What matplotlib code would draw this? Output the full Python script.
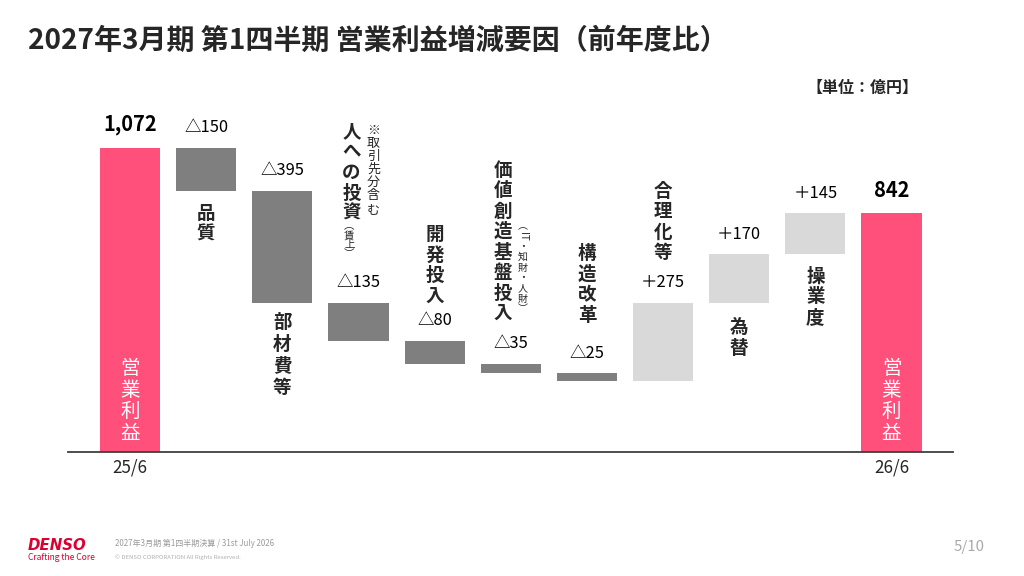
import matplotlib
matplotlib.use('Agg')
import matplotlib.pyplot as plt

plt.rcParams['font.family'] = ['Noto Sans CJK JP', 'DejaVu Sans']

# data
title = '2027年3月期 第1四半期 営業利益増減要因（前年度比）'
unit_label = '【単位：億円】'
period_labels = ['25/6', '26/6']
total_name = '営業利益'
start_value = 1072
end_value = 842
factor_names = ['品質', '部材費等', '人への投資', '開発投入', '価値創造基盤投入',
                '構造改革', '合理化等', '為替', '操業度']
factor_deltas = [-150, -395, -135, -80, -35, -25, 275, 170, 145]

# layout of the vertical category labels (pixels)
cat_place = ['below', 'below', 'above', 'above', 'above', 'above', 'above', 'below', 'below']
cat_offset = [23, 20, 89, 45, 50, 58, 50, 25, 22]
cat_dx = [0, 0, -7, 0, -8, 0, 0, 0, 0]
cat_step = [20.5, 21.5, 20.5, 20.5, 20.5, 20.5, 20.5, 20.5, 20.5]

RED = '#FF4F7B'
DARK = '#7F7F7F'
LIGHT = '#D9D9D9'
TXT = '#262626'

W, H = 1024, 576
PX_PER_UNIT = 0.2836
STEP = 76.15

fig = plt.figure(figsize=(W / 100, H / 100), dpi=100)
ax = fig.add_axes([68 / W, 124 / H, 885 / W, 1300 * PX_PER_UNIT / H])
ax.set_xlim((68 - 130) / STEP, (953 - 130) / STEP)
ax.set_ylim(0, 1300)
ax.axis('off')


def pt(px):
    return px * 0.72


def vtext(x, y, chars, start, step, size, dx=0, **kw):
    for k, ch in enumerate(chars):
        ax.annotate(ch, (x, y), xytext=(dx, start - k * step), textcoords='offset pixels',
                    ha='center', va='center', fontsize=pt(size), annotation_clip=False, **kw)


# bars
n = len(factor_deltas)
level = start_value
ax.bar(0, start_value, width=0.79, color=RED)
ax.annotate('{:,}'.format(start_value), (0, start_value), xytext=(0, 23), textcoords='offset pixels',
            ha='center', va='center', fontsize=pt(20), fontweight='bold', color='black')
for i, d in enumerate(factor_deltas, start=1):
    new = level + d
    bottom, top = min(level, new), max(level, new)
    ax.bar(i, top - bottom, bottom=bottom, width=0.79, color=DARK if d < 0 else LIGHT)
    lab = ('△' if d < 0 else '＋') + str(abs(d))
    ax.annotate(lab, (i, top), xytext=(0, 20), textcoords='offset pixels',
                ha='center', va='center', fontsize=pt(16.5), color='black')
    name = factor_names[i - 1]
    step = cat_step[i - 1]
    if cat_place[i - 1] == 'below':
        vtext(i, bottom, name, -cat_offset[i - 1], step, 18.5, dx=cat_dx[i - 1],
              color=TXT, fontweight='bold')
    else:
        vtext(i, top, name, cat_offset[i - 1] + (len(name) - 1) * step, step, 18.5,
              dx=cat_dx[i - 1], color=TXT, fontweight='bold')
    level = new

ax.bar(n + 1, end_value, width=0.79, color=RED)
ax.annotate('{:,}'.format(end_value), (n + 1, end_value), xytext=(0, 23), textcoords='offset pixels',
            ha='center', va='center', fontsize=pt(20), fontweight='bold', color='black')

# text inside the total bars
for i in (0, n + 1):
    vtext(i, 0, total_name, 19 + 3 * 21.5, 21.5, 19.5, color='white')

# small notes
vtext(3, 0, '※取引先分含む', 452 - 130, 13.2, 13, dx=374 - 359, color=TXT)
vtext(3, 0, '︵賃上︶', 452 - 226, 9.5, 10.5, dx=350 - 359, color=TXT)
note6 = ['︵', 'IT', '・', '知', '財', '・', '人', '財', '︶']
for k, ch in enumerate(note6):
    ax.annotate(ch, (5, 0), xytext=(523 - 511, 452 - 226 - k * 10.4), textcoords='offset pixels',
                ha='center', va='center', fontsize=pt(10), color=TXT,
                rotation=-90 if ch == 'IT' else 0, annotation_clip=False)

# baseline and period labels
ax.axhline(0, color='#404040', lw=1.3, clip_on=False)
for i, lab in zip((0, n + 1), period_labels):
    ax.annotate(lab, (i, 0), xytext=(0, -16), textcoords='offset pixels',
                ha='center', va='center', fontsize=pt(17), color=TXT)

# titles and footer
fig.text(28 / W, 1 - 41 / H, title, fontsize=pt(28), fontweight='bold', va='center', color=TXT)
fig.text(918 / W, 1 - 88 / H, unit_label, fontsize=pt(16), fontweight='bold', ha='right',
         va='center', color=TXT)
fig.text(28 / W, 1 - 545 / H, 'DENSO', fontsize=pt(15), fontweight='bold', style='italic',
         color='#DC0032', va='center', family='DejaVu Sans')
fig.text(28 / W, 1 - 557 / H, 'Crafting the Core', fontsize=pt(8.5), color='#DC0032', va='center')
fig.text(115 / W, 1 - 544 / H, '2027年3月期 第1四半期決算 / 31st July 2026', fontsize=pt(8),
         color='#9A9A9A', va='center')
fig.text(115 / W, 1 - 557 / H, '© DENSO CORPORATION All Rights Reserved.', fontsize=pt(6),
         color='#B0B0B0', va='center')
fig.text(985 / W, 1 - 547 / H, '5/10', fontsize=pt(15), color='#AAAAAA', ha='right', va='center')

fig.savefig('out.png', dpi=100)
